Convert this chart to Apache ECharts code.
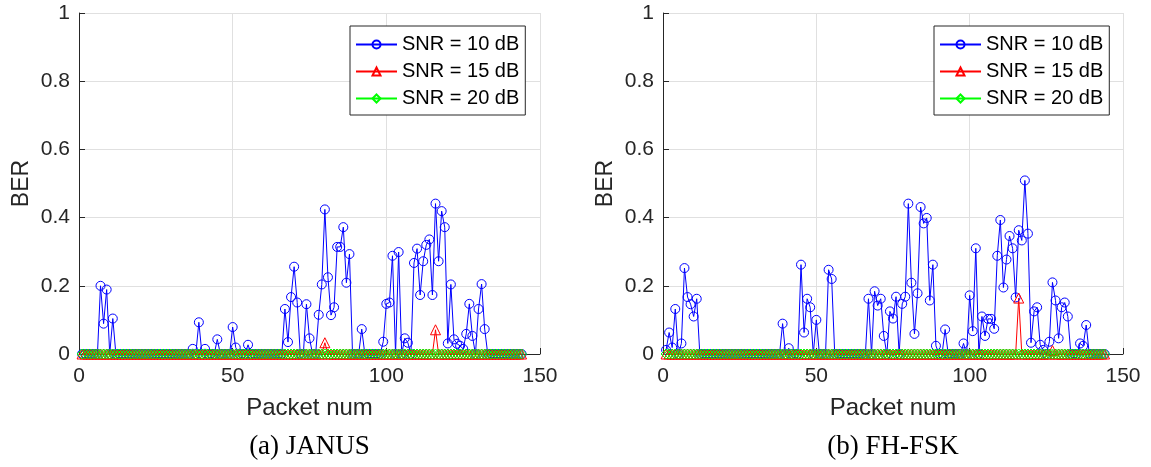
<!DOCTYPE html>
<html lang="en">
<head>
  <meta charset="UTF-8">
  <title>BER per packet: JANUS vs FH-FSK</title>
  <script src="https://cdn.jsdelivr.net/npm/echarts@6/dist/echarts.min.js"></script>
  <style>
    html, body { margin: 0; padding: 0; background: #ffffff; overflow: hidden; }
    #chart { width: 1151px; height: 467px; }
  </style>
</head>
<body>
  <div id="chart"></div>

  <script>
    // BER per packet (packets 1..144)
    var janus10 = [
      0, 0, 0, 0, 0, 0, 0.200, 0.089, 0.189, 0, 0.104, 0,
      0, 0, 0, 0, 0, 0, 0, 0, 0, 0, 0, 0,
      0, 0, 0, 0, 0, 0, 0, 0, 0, 0, 0, 0,
      0.015, 0, 0.093, 0, 0.015, 0, 0, 0, 0.043, 0, 0, 0,
      0, 0.079, 0.019, 0, 0, 0, 0.027, 0, 0, 0, 0, 0,
      0, 0, 0, 0, 0, 0, 0.132, 0.035, 0.167, 0.256, 0.151, 0,
      0, 0.146, 0.046, 0, 0, 0.115, 0.204, 0.424, 0.225, 0.114, 0.137, 0.314,
      0.314, 0.372, 0.209, 0.293, 0, 0, 0, 0.073, 0, 0, 0, 0,
      0, 0, 0.036, 0.147, 0.151, 0.288, 0, 0.299, 0, 0.046, 0.033, 0,
      0.267, 0.309, 0.173, 0.272, 0.320, 0.336, 0.173, 0.441, 0.272, 0.419, 0.372, 0.031,
      0.204, 0.043, 0.030, 0.024, 0.015, 0.059, 0.147, 0.053, 0, 0.132, 0.205, 0.073,
      0, 0, 0, 0, 0, 0, 0, 0, 0, 0, 0, 0
    ];
    var janus15 = [
      0, 0, 0, 0, 0, 0, 0, 0, 0, 0, 0, 0,
      0, 0, 0, 0, 0, 0, 0, 0, 0, 0, 0, 0,
      0, 0, 0, 0, 0, 0, 0, 0, 0, 0, 0, 0,
      0, 0, 0, 0, 0, 0, 0, 0, 0, 0, 0, 0,
      0, 0, 0, 0, 0, 0, 0, 0, 0, 0, 0, 0,
      0, 0, 0, 0, 0, 0, 0, 0, 0, 0, 0, 0,
      0, 0, 0, 0, 0, 0, 0, 0.033, 0, 0, 0, 0,
      0, 0, 0, 0, 0, 0, 0, 0, 0, 0, 0, 0,
      0, 0, 0, 0, 0, 0, 0, 0, 0, 0, 0, 0,
      0, 0, 0, 0, 0, 0, 0, 0.071, 0, 0, 0, 0,
      0, 0, 0, 0, 0, 0, 0, 0, 0, 0, 0, 0,
      0, 0, 0, 0, 0, 0, 0, 0, 0, 0, 0, 0
    ];
    var fsk10 = [
      0.012, 0.063, 0.019, 0.132, 0, 0.031, 0.252, 0.167, 0.146, 0.110, 0.162, 0,
      0, 0, 0, 0, 0, 0, 0, 0, 0, 0, 0, 0,
      0, 0, 0, 0, 0, 0, 0, 0, 0, 0, 0, 0,
      0, 0, 0.089, 0, 0.017, 0, 0, 0, 0.262, 0.063, 0.162, 0.137,
      0, 0.100, 0, 0, 0, 0.247, 0.220, 0, 0, 0, 0, 0,
      0, 0, 0, 0, 0, 0, 0.162, 0, 0.184, 0.142, 0.162, 0.053,
      0, 0.125, 0.104, 0.168, 0, 0.147, 0.168, 0.441, 0.209, 0.059, 0.178, 0.431,
      0.383, 0.399, 0.157, 0.262, 0.024, 0, 0, 0.072, 0, 0, 0, 0,
      0, 0.031, 0, 0.172, 0.067, 0.310, 0, 0.110, 0.053, 0.103, 0.103, 0.074,
      0.288, 0.393, 0.195, 0.277, 0.346, 0.310, 0.166, 0.363, 0.333, 0.509, 0.353, 0.033,
      0.125, 0.137, 0.027, 0.012, 0, 0.036, 0.210, 0.157, 0.046, 0.137, 0.151, 0.110,
      0, 0, 0, 0.031, 0.024, 0.085, 0, 0, 0, 0, 0, 0
    ];
    var fsk15 = [
      0, 0, 0, 0, 0, 0, 0, 0, 0, 0, 0, 0,
      0, 0, 0, 0, 0, 0, 0, 0, 0, 0, 0, 0,
      0, 0, 0, 0, 0, 0, 0, 0, 0, 0, 0, 0,
      0, 0, 0, 0, 0, 0, 0, 0, 0, 0, 0, 0,
      0, 0, 0, 0, 0, 0, 0, 0, 0, 0, 0, 0,
      0, 0, 0, 0, 0, 0, 0, 0, 0, 0, 0, 0,
      0, 0, 0, 0, 0, 0, 0, 0, 0, 0, 0, 0,
      0, 0, 0, 0, 0, 0, 0, 0, 0, 0, 0, 0,
      0, 0, 0, 0, 0, 0, 0, 0, 0, 0, 0, 0,
      0, 0, 0, 0, 0, 0, 0, 0.164, 0, 0, 0, 0,
      0, 0, 0, 0, 0, 0, 0.010, 0, 0, 0, 0, 0,
      0, 0, 0, 0, 0, 0, 0, 0, 0, 0, 0, 0
    ];
    // SNR = 20 dB: no bit errors in either scheme
    var zeros20 = [
      0, 0, 0, 0, 0, 0, 0, 0, 0, 0, 0, 0,
      0, 0, 0, 0, 0, 0, 0, 0, 0, 0, 0, 0,
      0, 0, 0, 0, 0, 0, 0, 0, 0, 0, 0, 0,
      0, 0, 0, 0, 0, 0, 0, 0, 0, 0, 0, 0,
      0, 0, 0, 0, 0, 0, 0, 0, 0, 0, 0, 0,
      0, 0, 0, 0, 0, 0, 0, 0, 0, 0, 0, 0,
      0, 0, 0, 0, 0, 0, 0, 0, 0, 0, 0, 0,
      0, 0, 0, 0, 0, 0, 0, 0, 0, 0, 0, 0,
      0, 0, 0, 0, 0, 0, 0, 0, 0, 0, 0, 0,
      0, 0, 0, 0, 0, 0, 0, 0, 0, 0, 0, 0,
      0, 0, 0, 0, 0, 0, 0, 0, 0, 0, 0, 0,
      0, 0, 0, 0, 0, 0, 0, 0, 0, 0, 0, 0
    ];
    var seriesNames = ['SNR = 10 dB', 'SNR = 15 dB', 'SNR = 20 dB'];
    var panelTitles = ['(a) JANUS', '(b) FH-FSK'];
    var xTicks = { min: 0, max: 150, interval: 50 };
    var yTicks = { min: 0, max: 1, interval: 0.2 };

    var chart = echarts.init(document.getElementById('chart'));

    var axisColor = '#262626';
    var gridColor = '#e0e0e0';
    var sans = '"Liberation Sans", Arial, sans-serif';

    // pair packet number (1-based) with the BER value
    function toPoints(arr) {
      return arr.map(function (v, i) { return [i + 1, v]; });
    }

    function makeX(idx) {
      return {
        type: 'value', gridIndex: idx,
        min: xTicks.min, max: xTicks.max, interval: xTicks.interval,
        name: 'Packet num', nameLocation: 'middle', nameGap: 42,
        nameTextStyle: { color: axisColor, fontFamily: sans, fontSize: 24 },
        axisLine: { onZero: false, lineStyle: { color: axisColor, width: 1 } },
        axisTick: { inside: true, length: 6, lineStyle: { color: axisColor } },
        axisLabel: { color: axisColor, fontFamily: sans, fontSize: 21, margin: 12 },
        splitLine: { show: true, lineStyle: { color: gridColor, width: 1 } }
      };
    }

    function makeY(idx) {
      return {
        type: 'value', gridIndex: idx,
        min: yTicks.min, max: yTicks.max, interval: yTicks.interval,
        name: 'BER', nameLocation: 'middle', nameGap: 46,
        nameTextStyle: { color: axisColor, fontFamily: sans, fontSize: 23 },
        axisLine: { show: true, lineStyle: { color: axisColor, width: 1 } },
        axisTick: { show: true, inside: true, length: 6, lineStyle: { color: axisColor } },
        axisLabel: { color: axisColor, fontFamily: sans, fontSize: 21, margin: 9 },
        splitLine: { show: true, lineStyle: { color: gridColor, width: 1 } }
      };
    }

    var styles = [
      { color: '#0000ff', symbol: 'circle', size: 9 },
      { color: '#ff0000', symbol: 'triangle', size: 10 },
      { color: '#00ff00', symbol: 'diamond', size: 10 }
    ];

    function makeSeries(idx, datasets) {
      return datasets.map(function (arr, k) {
        var st = styles[k];
        return {
          name: seriesNames[k],
          type: 'line',
          xAxisIndex: idx, yAxisIndex: idx,
          data: toPoints(arr),
          symbol: st.symbol,
          symbolSize: st.size,
          showAllSymbol: true,
          clip: false,
          animation: false,
          lineStyle: { color: st.color, width: 1 },
          itemStyle: { color: 'rgba(255,255,255,0)', borderColor: st.color, borderWidth: 1 }
        };
      });
    }

    function makeLegend(left) {
      return {
        orient: 'vertical',
        left: left, top: 26,
        data: seriesNames,
        backgroundColor: '#ffffff',
        borderColor: axisColor, borderWidth: 1,
        padding: [7, 6, 5, 5],
        itemWidth: 41, itemHeight: 10, itemGap: 4,
        textStyle: { color: '#000000', fontFamily: sans, fontSize: 20, lineHeight: 23 },
        selectedMode: false
      };
    }

    var option = {
      backgroundColor: '#ffffff',
      animation: false,
      grid: [
        { left: 79, top: 13, width: 461, height: 341 },
        { left: 663, top: 13, width: 460, height: 341 }
      ],
      xAxis: [makeX(0), makeX(1)],
      yAxis: [makeY(0), makeY(1)],
      legend: [makeLegend(350), makeLegend(934)],
      graphic: [
        {
          type: 'text', x: 309.5, y: 447,
          style: {
            text: panelTitles[0], fill: '#000000',
            font: '27px "Liberation Serif", "Times New Roman", serif',
            align: 'center', verticalAlign: 'middle',
            textAlign: 'center', textVerticalAlign: 'middle'
          }
        },
        {
          type: 'text', x: 893, y: 447,
          style: {
            text: panelTitles[1], fill: '#000000',
            font: '27px "Liberation Serif", "Times New Roman", serif',
            align: 'center', verticalAlign: 'middle',
            textAlign: 'center', textVerticalAlign: 'middle'
          }
        }
      ],
      series: makeSeries(0, [janus10, janus15, zeros20])
        .concat(makeSeries(1, [fsk10, fsk15, zeros20]))
    };

    chart.setOption(option);
  </script>
</body>
</html>
